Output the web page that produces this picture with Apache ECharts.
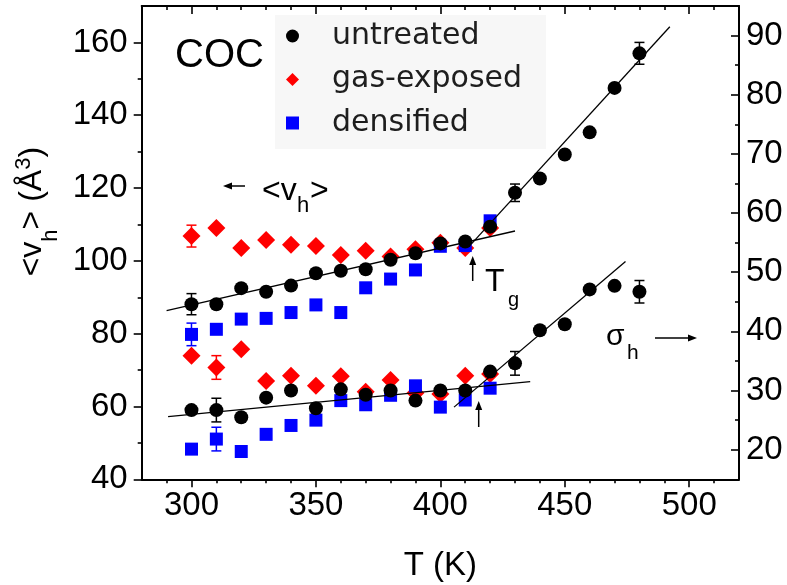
<!DOCTYPE html>
<html><head><meta charset="utf-8">
<script src="https://cdn.jsdelivr.net/npm/echarts@6/dist/echarts.min.js"></script>
<style>html,body{margin:0;padding:0;background:#fff}#c{width:787px;height:585px}</style>
</head><body><div id="c"></div>
<script>
// ---- data ----
const tempsAll = [300,310,320,330,340,350,360,370,380,390,400,410,420,430,440,450,460,470,480];
const tempsTreated = [300,310,320,330,340,350,360,370,380,390,400,410,420];

// mean hole volume <v_h> (left axis)
const vhUntreated = [88.1,88.1,92.5,91.5,93.2,96.6,97.3,97.7,100.3,102.1,104.8,105.3,109.4,118.7,122.6,129.2,135.3,147.5,157.0];
const vhGas       = [106.8,109.0,103.5,105.7,104.4,104.1,101.6,102.8,101.2,103.2,105.0,103.5,109.0];
const vhDens      = [79.8,81.2,84.0,84.2,85.8,87.9,85.8,92.6,95.0,97.5,104.0,104.2,111.0];

// hole-size distribution width sigma_h (right axis)
const shUntreated = [26.7,26.7,25.5,28.8,30.0,27.0,30.2,29.3,30.0,28.3,30.0,30.0,33.2,34.6,40.2,41.2,47.1,47.7,46.7];
const shGas       = [35.9,33.9,37.0,31.6,32.5,30.8,32.4,29.8,31.8,29.6,29.4,32.5,32.8];
const shDens      = [20.1,21.8,19.7,22.6,24.1,25.0,28.3,27.6,29.2,30.8,27.2,28.4,30.4];

// error bars [T, value, error]
const errVhUntreated = [[300,88.1,2.9],[430,118.7,2.4],[480,157.0,3.0]];
const errVhGas       = [[300,106.8,3.0]];
const errVhDens      = [[300,79.8,3.1]];
const errShUntreated = [[310,26.7,2.0],[430,34.6,2.0],[480,46.7,1.9]];
const errShGas       = [[310,33.9,2.0]];
const errShDens      = [[310,21.8,2.0]];

// linear fits (end points)
const fitVhLow  = [[290,86.3],[430,108.2]];
const fitVhHigh = [[412.4,104.6],[492.2,164.3]];
const fitShLow  = [[290.6,25.6],[436.1,31.5]];
const fitShHigh = [[405.5,27.2],[474.4,51.8]];

// ticks
const xMajor = [300,350,400,450,500];
const xMinor = [290,310,320,330,340,360,370,380,390,410,420,430,440,460,470,480,490,510];
const yLeftMajor = [40,60,80,100,120,140,160];
const yLeftMinor = [50,70,90,110,130,150];
const yRightMajor = [20,30,40,50,60,70,80,90];
const yRightMinor = [25,35,45,55,65,75,85];

const legendNames = ['untreated','gas-exposed','densified'];

// ---- chart ----
const FONT = '"Liberation Sans", Arial, sans-serif';
const TICKFS = 33;
const pairs = (xs, ys) => xs.map((x, i) => [x, ys[i]]);
const chart = echarts.init(document.getElementById('c'), null, {renderer: 'canvas'});

function xAx(pos, ticks, len, inside, labels, line) {
  return {
    type: 'value', position: pos, min: 280, max: 520,
    axisLine: {show: line, onZero: false, lineStyle: {color: '#000', width: 2}},
    axisTick: {show: true, customValues: ticks, length: len, inside: inside, lineStyle: {color: '#000', width: 1.6}},
    axisLabel: labels ? {customValues: ticks, fontSize: TICKFS, color: '#000', fontFamily: FONT, margin: 10} : {show: false},
    splitLine: {show: false}
  };
}
function yAx(pos, min, max, ticks, len, inside, labels, line, margin) {
  return {
    type: 'value', position: pos, min: min, max: max,
    axisLine: {show: line, onZero: false, lineStyle: {color: '#000', width: 2}},
    axisTick: {show: true, customValues: ticks, length: len, inside: inside, lineStyle: {color: '#000', width: 1.6}},
    axisLabel: labels ? {customValues: ticks, fontSize: TICKFS, color: '#000', fontFamily: FONT, margin: margin} : {show: false},
    splitLine: {show: false}
  };
}

const xAxes = [
  Object.assign(xAx('bottom', xMajor, 8, false, true, true), {
    name: 'T (K)', nameLocation: 'middle', nameGap: 70,
    nameTextStyle: {fontSize: 33, fontFamily: FONT, color: '#000'}
  }),
  xAx('bottom', xMinor, 4, false, false, false),
  xAx('top', xMajor, 8, true, false, true),
  xAx('top', xMinor, 4, true, false, false)
];
const yAxes = [
  Object.assign(yAx('left', 40, 170, yLeftMajor, 8, false, true, true, 14), {
    name: '{m|<v}{s|h}{m|> (Å}{p|3}{m|)}', nameLocation: 'middle', nameGap: 77,
    nameTextStyle: {
      padding: [0, 0, 0, 62],
      rich: {
        m: {fontSize: 32, fontFamily: FONT, color: '#000', verticalAlign: 'top', lineHeight: 36, padding: [10,0,0,0]},
        s: {fontSize: 22, fontFamily: FONT, color: '#000', verticalAlign: 'top', lineHeight: 24, padding: [34,0,0,0]},
        p: {fontSize: 22, fontFamily: FONT, color: '#000', verticalAlign: 'top', lineHeight: 24, padding: [7,0,0,0]}
      }
    }
  }),
  yAx('left', 40, 170, yLeftMinor, 4, false, false, false, 0),
  yAx('right', 15, 95, yRightMajor, 8, true, true, true, 7),
  yAx('right', 15, 95, yRightMinor, 4, true, false, false, 0)
];

function errSeries(data, color, yIdx) {
  return {
    type: 'custom', xAxisIndex: 0, yAxisIndex: yIdx, data: data, encode: {x: 0, y: 1}, silent: true,
    renderItem: function (params, api) {
      const x = api.value(0), y = api.value(1), e = api.value(2);
      const p1 = api.coord([x, y + e]), p2 = api.coord([x, y - e]);
      const w = 5, st = {stroke: color, lineWidth: 1.5};
      return {type: 'group', children: [
        {type: 'line', shape: {x1: p1[0], y1: p1[1], x2: p2[0], y2: p2[1]}, style: st},
        {type: 'line', shape: {x1: p1[0]-w, y1: p1[1], x2: p1[0]+w, y2: p1[1]}, style: st},
        {type: 'line', shape: {x1: p2[0]-w, y1: p2[1], x2: p2[0]+w, y2: p2[1]}, style: st}
      ]};
    }
  };
}
function scat(name, data, yIdx, symbol, size, color) {
  return {type: 'scatter', name: name, xAxisIndex: 0, yAxisIndex: yIdx, data: data,
    symbol: symbol, symbolSize: size, itemStyle: {color: color, opacity: 1}};
}
function fit(data, yIdx) {
  return {type: 'line', xAxisIndex: 0, yAxisIndex: yIdx, data: data, symbol: 'none',
    lineStyle: {color: '#000', width: 1.3}, silent: true};
}

const RED = '#ff0000', BLUE = '#0000ff', BLACK = '#000000';
const series = [
  errSeries(errVhGas, RED, 0), errSeries(errVhDens, BLUE, 0), errSeries(errVhUntreated, BLACK, 0),
  errSeries(errShGas, RED, 2), errSeries(errShDens, BLUE, 2), errSeries(errShUntreated, BLACK, 2),
  scat(legendNames[1], pairs(tempsTreated, vhGas), 0, 'diamond', 18, RED),
  scat(legendNames[2], pairs(tempsTreated, vhDens), 0, 'rect', 13, BLUE),
  scat(legendNames[0], pairs(tempsAll, vhUntreated), 0, 'circle', 14, BLACK),
  scat(legendNames[1], pairs(tempsTreated, shGas), 2, 'diamond', 18, RED),
  scat(legendNames[2], pairs(tempsTreated, shDens), 2, 'rect', 13, BLUE),
  scat(legendNames[0], pairs(tempsAll, shUntreated), 2, 'circle', 14, BLACK),
  fit(fitVhLow, 0), fit(fitVhHigh, 0), fit(fitShLow, 2), fit(fitShHigh, 2)
];

function arrow(x1, y1, x2, y2) {
  // tail (x1,y1) -> tip (x2,y2)
  const dx = x2 - x1, dy = y2 - y1, L = Math.hypot(dx, dy), ux = dx / L, uy = dy / L;
  const hl = 9, hw = 3.5;
  const bx = x2 - ux * hl, by = y2 - uy * hl;
  return [
    {type: 'line', shape: {x1: x1, y1: y1, x2: bx, y2: by}, style: {stroke: '#000', lineWidth: 1.5}, silent: true},
    {type: 'polygon', shape: {points: [[x2, y2], [bx - uy * hw, by + ux * hw], [bx + uy * hw, by - ux * hw]]}, style: {fill: '#000'}, silent: true}
  ];
}
function txt(text, x, y, size, align) {
  return {type: 'text', x: x, y: y, silent: true,
    style: {text: text, fontSize: size, fontFamily: FONT, fill: '#000', align: align || 'left', verticalAlign: 'middle'}};
}

const graphics = [].concat(
  [txt('COC', 175, 56, 40)],
  arrow(245, 186, 223, 186),
  [txt('<v', 262, 191, 32), txt('h', 297, 206, 22), txt('>', 310, 191, 32)],
  arrow(472.7, 281, 472.7, 256),
  [txt('T', 485, 282, 32), txt('g', 508, 300, 20)],
  arrow(478.7, 427, 478.7, 401),
  [txt('σ', 606, 337, 30), txt('h', 627, 353, 21)],
  arrow(655, 338, 697, 338)
);

chart.setOption({
  animation: false,
  backgroundColor: '#fff',
  grid: {left: 141.7, right: 48, top: 6, bottom: 105.7, containLabel: false, outerBoundsMode: 'none'},
  xAxis: xAxes,
  yAxis: yAxes,
  legend: {
    orient: 'vertical', left: 275, top: 15,
    data: [{name: legendNames[0], icon: 'circle'}, {name: legendNames[1], icon: 'diamond'}, {name: legendNames[2], icon: 'rect'}],
    itemWidth: 13, itemHeight: 13, itemGap: 13.5,
    backgroundColor: '#f7f7f7', padding: [6, 24, 11, 11],
    formatter: function (n) { return '{t|' + n + '}'; },
    textStyle: {rich: {t: {fontSize: 30, fontFamily: '"DejaVu Sans", sans-serif', color: '#1e1e1e', lineHeight: 30, padding: [0, 0, 0, 28]}}},
    selectedMode: false
  },
  series: series,
  graphic: graphics
});
</script>
</body></html>
